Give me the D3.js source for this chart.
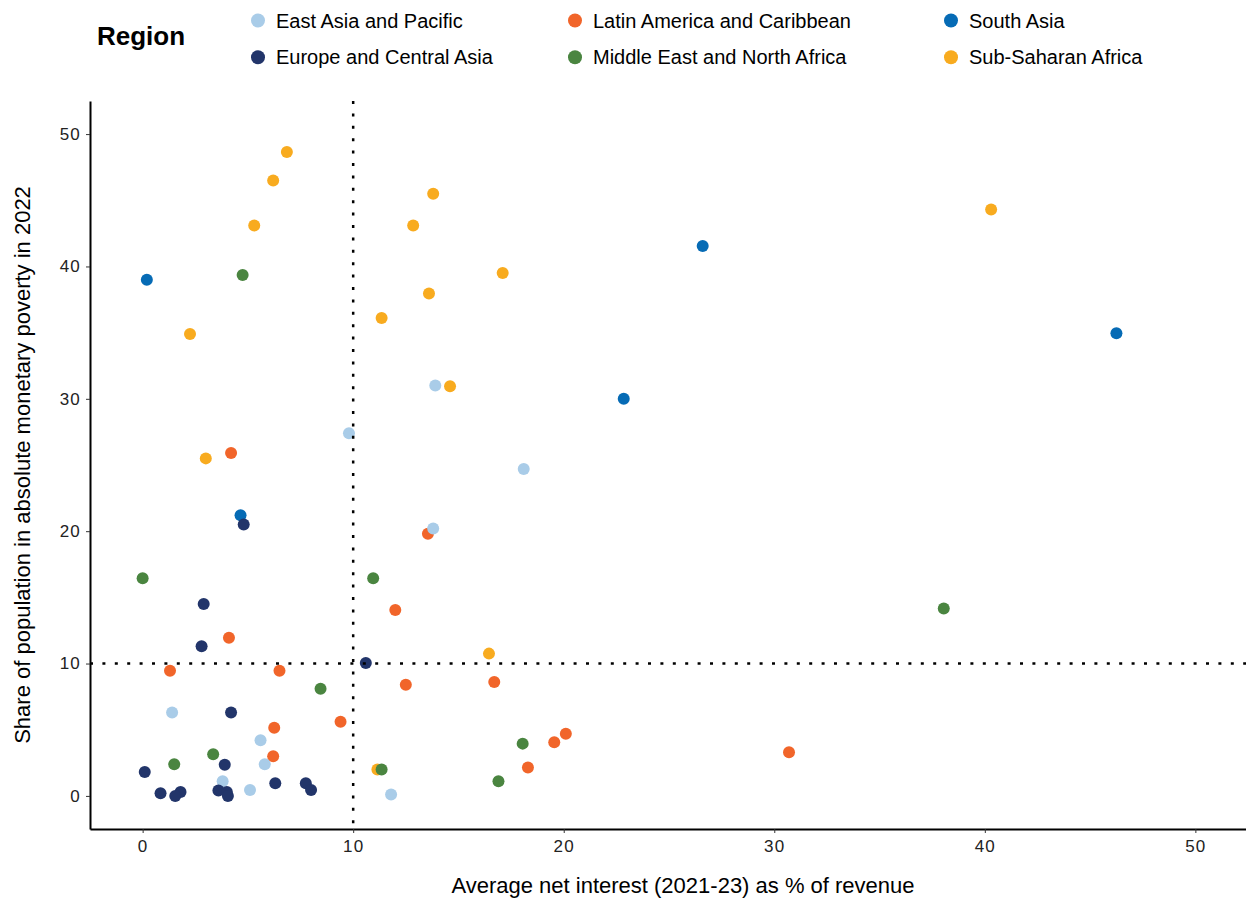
<!DOCTYPE html>
<html>
<head>
<meta charset="utf-8">
<script src="https://cdn.jsdelivr.net/npm/d3@7"></script>
<style>
  body { margin: 0; background: #fff; }
  svg { display: block; font-family: "Liberation Sans", Arial, sans-serif; }
</style>
</head>
<body>
<div id="chart"></div>
<script>
// regions, legend order
var regions = ["East Asia and Pacific", "Europe and Central Asia", "Latin America and Caribbean",
               "Middle East and North Africa", "South Asia", "Sub-Saharan Africa"];
var regionColors = ["#a9cce8", "#22356a", "#f1652a", "#4a8540", "#066bb5", "#f8ab1f"];

// [average net interest % of revenue, poverty share %]
var eastAsiaPacific = [[13.9, 31.0], [9.8, 27.4], [18.1, 24.7], [13.8, 20.2], [1.4, 6.3],
                       [5.6, 4.2], [5.8, 2.4], [3.8, 1.1], [5.1, 0.45], [11.8, 0.1]];
var europeCentralAsia = [[4.8, 20.5], [2.9, 14.5], [2.8, 11.3], [10.6, 10.05], [4.2, 6.3],
                         [3.9, 2.35], [0.1, 1.8], [6.3, 0.95], [7.75, 0.95], [8.0, 0.45],
                         [0.85, 0.2], [1.8, 0.3], [1.55, 0.0], [3.6, 0.4], [4.0, 0.3], [4.05, 0.0]];
var latinAmerica = [[4.2, 25.9], [13.55, 19.8], [12.0, 14.05], [4.1, 11.95], [1.3, 9.45],
                    [6.5, 9.45], [12.5, 8.4], [16.7, 8.6], [9.4, 5.6], [6.25, 5.15],
                    [6.2, 3.0], [20.1, 4.7], [19.55, 4.05], [18.3, 2.15], [30.7, 3.3]];
var middleEastNorthAfrica = [[4.75, 39.35], [0.0, 16.45], [10.95, 16.45], [8.45, 8.1], [3.35, 3.15],
                             [1.5, 2.4], [11.35, 2.0], [18.05, 3.95], [16.9, 1.1], [38.05, 14.15]];
var southAsia = [[0.2, 39.0], [26.6, 41.55], [22.85, 30.0], [46.25, 34.95], [4.65, 21.2]];
var subSaharanAfrica = [[6.85, 48.65], [6.2, 46.5], [5.3, 43.1], [2.25, 34.9], [3.0, 25.5],
                        [13.8, 45.5], [12.85, 43.1], [17.1, 39.5], [13.6, 37.95], [11.35, 36.1],
                        [14.6, 30.95], [16.45, 10.75], [11.15, 2.0], [40.3, 44.3]];

// drawing order (later groups sit on top)
var drawOrder = [
    ["South Asia", southAsia],
    ["Latin America and Caribbean", latinAmerica],
    ["East Asia and Pacific", eastAsiaPacific],
    ["Europe and Central Asia", europeCentralAsia],
    ["Sub-Saharan Africa", subSaharanAfrica],
    ["Middle East and North Africa", middleEastNorthAfrica]
];

var xTicks = [0, 10, 20, 30, 40, 50];
var yTicks = [0, 10, 20, 30, 40, 50];
var threshold = 10;

var W = 1246, H = 899;
var margin = { top: 101, right: -2, bottom: 70, left: 90 };
var width = W - margin.left - margin.right,
    height = H - margin.top - margin.bottom;

var color = d3.scaleOrdinal().domain(regions).range(regionColors);

var svg = d3.select("#chart").append("svg")
    .attr("width", W)
    .attr("height", H);

// legend
svg.append("text")
    .attr("x", 97).attr("y", 45)
    .style("font-size", "26px").style("font-weight", "bold")
    .text("Region");

var legendX = [258, 575, 951];
var legend = svg.selectAll(".legend")
    .data(regions)
    .enter().append("g")
    .attr("transform", function(d, i) {
        return "translate(" + legendX[Math.floor(i / 2)] + "," + (i % 2 === 0 ? 20.5 : 57.3) + ")";
    });
legend.append("circle").attr("r", 7).attr("fill", function(d) { return color(d); });
legend.append("text")
    .attr("x", 18).attr("y", 7)
    .style("font-size", "20px")
    .text(function(d) { return d; });

var g = svg.append("g")
    .attr("transform", "translate(" + margin.left + "," + margin.top + ")");

var x = d3.scaleLinear().domain([-2.5, 52.5]).range([0, width]);
var y = d3.scaleLinear().domain([-2.5, 52.5]).range([height, 0]);

// axes
var xAxis = g.append("g")
    .attr("transform", "translate(0," + height + ")")
    .call(d3.axisBottom(x).tickValues(xTicks).tickSize(4).tickPadding(7).tickSizeOuter(0));
var yAxis = g.append("g")
    .call(d3.axisLeft(y).tickValues(yTicks).tickSize(4).tickPadding(5).tickSizeOuter(0));

[xAxis, yAxis].forEach(function(a) {
    a.select(".domain").attr("stroke", "#000").attr("stroke-width", 2);
    a.selectAll(".tick line").attr("stroke", "#333").attr("stroke-width", 1);
    a.selectAll(".tick text")
        .attr("fill", "#222")
        .style("font-size", "17px")
        .style("letter-spacing", "1.2px")
        .style("font-family", "'Liberation Sans', Arial, sans-serif");
});

// points
drawOrder.forEach(function(grp) {
    g.append("g").selectAll("circle")
        .data(grp[1])
        .enter().append("circle")
        .attr("cx", function(d) { return x(d[0]); })
        .attr("cy", function(d) { return y(d[1]); })
        .attr("r", 6)
        .attr("fill", color(grp[0]));
});

// reference lines
g.append("line")
    .attr("x1", x(threshold)).attr("x2", x(threshold))
    .attr("y1", 0).attr("y2", height)
    .attr("stroke", "#000").attr("stroke-width", 2.5)
    .attr("stroke-dasharray", "3 9.4");
g.append("line")
    .attr("x1", 0).attr("x2", width)
    .attr("y1", y(threshold)).attr("y2", y(threshold))
    .attr("stroke", "#000").attr("stroke-width", 2.5)
    .attr("stroke-dasharray", "3 9.4");

// axis titles
svg.append("text")
    .attr("x", 683).attr("y", 893)
    .attr("text-anchor", "middle")
    .style("font-size", "22px")
    .text("Average net interest (2021-23) as % of revenue");
svg.append("text")
    .attr("transform", "translate(30," + (margin.top + height / 2) + ") rotate(-90)")
    .attr("text-anchor", "middle")
    .style("font-size", "22px")
    .text("Share of population in absolute monetary poverty in 2022");
</script>
</body>
</html>
